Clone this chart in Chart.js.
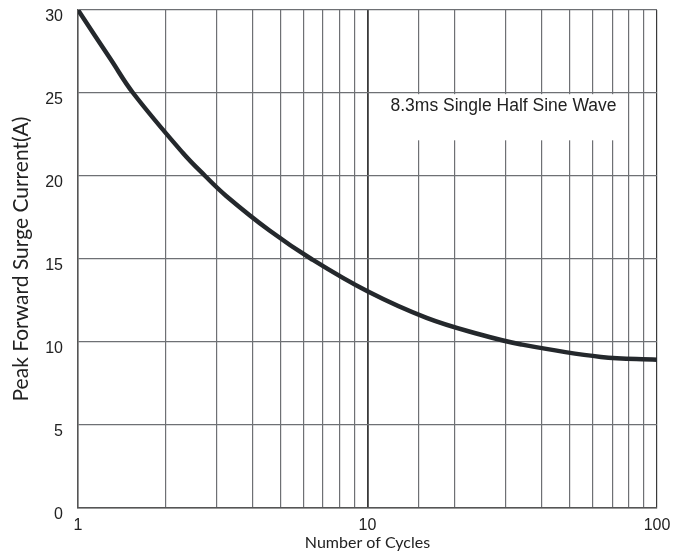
<!DOCTYPE html>
<html>
<head>
<meta charset="utf-8">
<script src="https://cdn.jsdelivr.net/npm/chart.js@4"></script>
<style>
  html, body { margin: 0; padding: 0; background: #fff; }
  #wrap { width: 689px; height: 558px; }
</style>
</head>
<body>
<div id="wrap"><canvas id="surgeChart"></canvas></div>
<script>
// values
const cycles = [1, 1.3, 1.55, 2.3, 2.75, 3.25, 4.6, 6.4, 10, 16, 24.5, 34, 64, 100];
const surgeCurrent = [30, 27.0, 25.0, 21.4, 20.0, 18.8, 16.7, 15.0, 13.05, 11.45, 10.45, 9.85, 9.1, 8.93];
const xTickLabels = [1, 10, 100];
const yTickValues = [0, 5, 10, 15, 20, 25, 30];
const noteText = '8.3ms Single Half Sine Wave';

const tickFont = { family: '"Liberation Sans", Arial, sans-serif', size: 16 };
const titleFamily = 'Lato, "Open Sans", sans-serif';

// white box behind the note, hides the grid like the original
const notePlugin = {
    id: 'note',
    beforeDatasetsDraw(chart) {
        const { ctx, scales: { x, y } } = chart;
        const left = x.getPixelForValue(13);
        const right = x.getPixelForValue(75);
        const top = y.getPixelForValue(24.93);
        const bottom = y.getPixelForValue(22.15);
        ctx.save();
        ctx.fillStyle = '#ffffff';
        ctx.fillRect(left, top, right - left, bottom - top);
        ctx.fillStyle = '#222';
        ctx.font = '17.5px "Liberation Sans", Arial, sans-serif';
        ctx.textAlign = 'center';
        ctx.textBaseline = 'middle';
        ctx.fillText(noteText, x.getPixelForValue(29.5), y.getPixelForValue(24.18));
        ctx.restore();
    }
};

const isMajor = v => xTickLabels.includes(v);

new Chart(document.getElementById('surgeChart'), {
    type: 'line',
    data: {
        datasets: [{
            data: cycles.map((c, i) => ({ x: c, y: surgeCurrent[i] })),
            borderColor: '#24282c',
            borderWidth: 4.5,
            pointRadius: 0,
            tension: 0.4,
            fill: false
        }]
    },
    options: {
        responsive: true,
        maintainAspectRatio: false,
        animation: false,
        devicePixelRatio: 1,
        layout: { padding: { top: 10, right: 32, left: 0, bottom: 0 } },
        plugins: {
            legend: { display: false },
            tooltip: { enabled: false }
        },
        scales: {
            x: {
                type: 'logarithmic',
                min: 1,
                max: 100,
                afterFit(scale) {
                    scale.height = 50;
                    scale.paddingLeft = 0;
                    scale.paddingRight = 0;
                },
                border: { color: '#555', width: 1.5 },
                grid: {
                    drawTicks: false,
                    color: ctx => (ctx.tick && isMajor(ctx.tick.value)) ? '#3a3a3a' : '#6e7074',
                    lineWidth: ctx => (ctx.tick && ctx.tick.value === 10) ? 1.8 : 1.2
                },
                ticks: {
                    autoSkip: false,
                    maxRotation: 0,
                    padding: 8,
                    color: '#222',
                    font: tickFont,
                    callback: v => isMajor(v) ? String(v) : ''
                },
                title: {
                    display: true,
                    text: 'Number of Cycles',
                    color: '#222',
                    font: { family: titleFamily, size: 16 },
                    padding: { top: 0, bottom: 6 }
                }
            },
            y: {
                min: 0,
                max: 30,
                afterFit(scale) {
                    scale.width = 78;
                    scale.paddingTop = 0;
                    scale.paddingBottom = 0;
                },
                afterBuildTicks(scale) { scale.ticks = yTickValues.map(v => ({ value: v })); },
                border: { color: '#555', width: 1.5 },
                grid: { drawTicks: false, color: '#6e7074', lineWidth: 1.2 },
                ticks: {
                    padding: 15,
                    labelOffset: 7,
                    color: '#222',
                    font: tickFont
                },
                title: {
                    display: true,
                    text: 'Peak Forward Surge Current(A)',
                    color: '#222',
                    font: { family: titleFamily, size: 21 },
                    padding: { top: 9, bottom: 0 }
                }
            }
        }
    },
    plugins: [notePlugin]
});
</script>
</body>
</html>
